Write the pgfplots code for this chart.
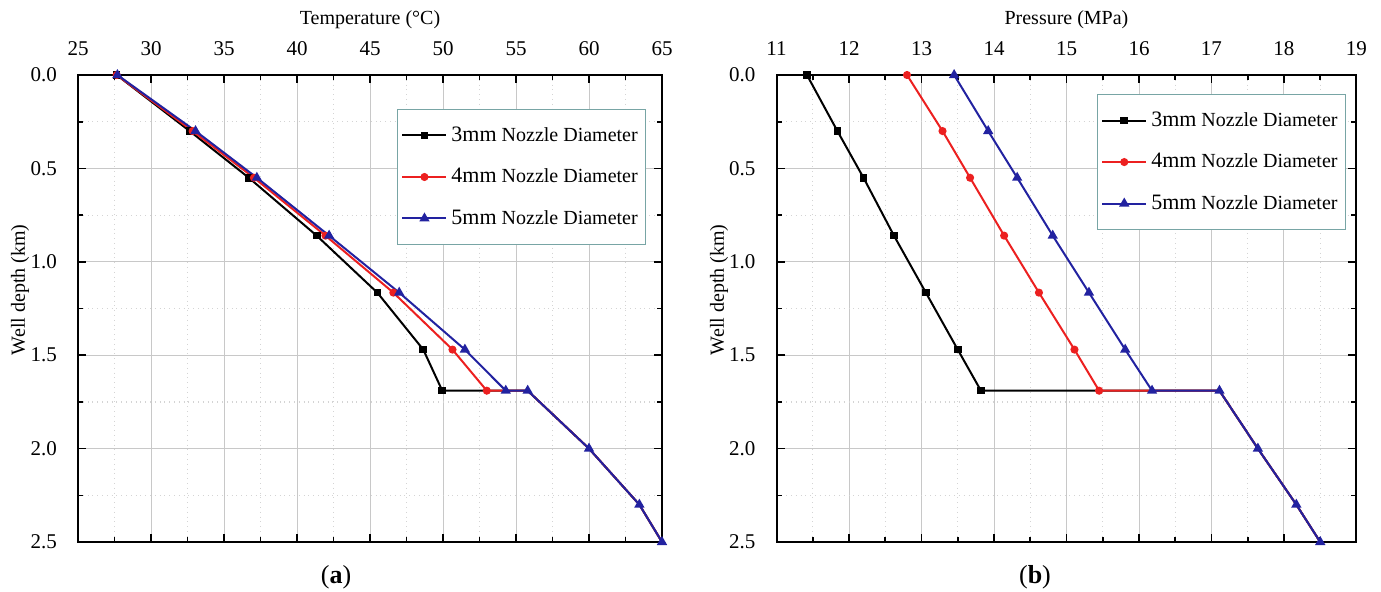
\documentclass[border=0pt]{standalone}
\usepackage{fontspec}
\setmainfont{Liberation Serif}
\usepackage{pgfplots}
\pgfplotsset{compat=1.18}

\definecolor{ser3}{RGB}{0,0,0}
\definecolor{ser4}{RGB}{236,32,32}
\definecolor{ser5}{RGB}{34,34,160}
\definecolor{gridmaj}{RGB}{200,200,200}
\definecolor{gridmin}{RGB}{212,212,212}
\definecolor{legframe}{RGB}{120,165,165}

\pgfplotsset{
  depthaxis/.style={
    scale only axis, height=233.5pt,
    y dir=reverse, ymin=0, ymax=2.5, ytick={0,0.5,...,2.5},
    minor x tick num=1, minor y tick num=1,
    tick align=inside, major tick length=4pt, minor tick length=2.5pt,
    xticklabel pos=upper,
    grid=both,
    major grid style={gridmaj, line width=0.5pt},
    minor grid style={gridmin, dotted, line width=0.6pt},
    axis line style={line width=1pt},
    tick style={black, line width=0.8pt},
    tick label style={font=\rmfamily\fontsize{10.5}{12}\selectfont},
    /pgf/number format/assume math mode=true,
    yticklabel style={/pgf/number format/fixed, /pgf/number format/fixed zerofill,
      /pgf/number format/precision=1, xshift=-7pt},
    xticklabel style={yshift=6pt},
    label style={font=\fontsize{11.5}{13}\selectfont},
    ylabel={Well depth (km)},
    every axis y label/.style={at={(axis description cs:-0.099,0.54)}, rotate=90, anchor=center},
    every axis x label/.style={at={(axis description cs:0.5,1.118)}, anchor=center},
    legend style={anchor=north west, draw=legframe, line width=0.6pt, fill=white,
      inner xsep=2pt, inner ysep=6.5pt, row sep=8pt,
      font=\fontsize{10}{12}\selectfont},
    legend cell align=left,
    legend image code/.code={\draw[mark indices={2}] plot coordinates {(0pt,0pt) (11pt,0pt) (22pt,0pt)};},
  },
  s3/.style={ser3, line width=1pt, mark=square*, mark size=1.4pt, mark options={solid}},
  s4/.style={ser4, line width=1pt, mark=*, mark size=1.5pt, mark options={solid}},
  s5/.style={ser5, line width=1pt, mark=triangle*, mark size=2pt, mark options={solid}},
}

\newcommand{\mm}[1]{{\fontsize{11}{12}\selectfont #1mm} Nozzle Diameter}

\begin{document}
\begin{tikzpicture}
\path[use as bounding box] (0,0) rectangle (690.5pt,-296pt);

% (a) temperature
\begin{axis}[depthaxis, at={(39pt,-271pt)}, anchor=south west, width=292pt,
  xmin=25, xmax=65, xtick={25,30,...,65},
  xlabel={Temperature (°C)},
  legend style={at={(axis description cs:0.546,0.927)}}]
\addplot[s3, mark indices={1,2,3,4,5,6,7}] coordinates {
  (27.65,0) (32.65,0.30) (36.70,0.55) (41.35,0.86) (45.50,1.165) (48.65,1.47) (49.95,1.69)
  (55.80,1.69) (60.00,2.0) (63.45,2.3) (65.00,2.5)};
\addlegendentry{\mm{3}}
\addplot[s4, mark indices={1,2,3,4,5,6,7}] coordinates {
  (27.65,0) (32.85,0.30) (37.05,0.55) (41.95,0.86) (46.60,1.165) (50.65,1.47) (53.00,1.69)
  (55.80,1.69) (60.00,2.0) (63.45,2.3) (65.00,2.5)};
\addlegendentry{\mm{4}}
\addplot[s5] coordinates {
  (27.70,0) (33.05,0.30) (37.25,0.55) (42.20,0.86) (47.00,1.165) (51.50,1.47) (54.30,1.69)
  (55.80,1.69) (60.00,2.0) (63.45,2.3) (65.00,2.5)};
\addlegendentry{\mm{5}}
\end{axis}

% (b) pressure
\begin{axis}[depthaxis, at={(388.25pt,-271pt)}, anchor=south west, width=290pt,
  xmin=11, xmax=19, xtick={11,...,19}, minor x tick num=1,
  xlabel={Pressure (MPa)},
  legend style={at={(axis description cs:0.552,0.959)}}]
\addplot[s3, mark indices={1,2,3,4,5,6,7}] coordinates {
  (11.42,0) (11.84,0.30) (12.20,0.55) (12.62,0.86) (13.06,1.165) (13.50,1.47) (13.82,1.69)
  (17.11,1.69) (17.64,2.0) (18.17,2.3) (18.50,2.5)};
\addlegendentry{\mm{3}}
\addplot[s4, mark indices={1,2,3,4,5,6,7}] coordinates {
  (12.80,0) (13.29,0.30) (13.67,0.55) (14.14,0.86) (14.62,1.165) (15.11,1.47) (15.45,1.69)
  (17.11,1.69) (17.64,2.0) (18.17,2.3) (18.50,2.5)};
\addlegendentry{\mm{4}}
\addplot[s5] coordinates {
  (13.45,0) (13.92,0.30) (14.32,0.55) (14.81,0.86) (15.31,1.165) (15.81,1.47) (16.18,1.69)
  (17.11,1.69) (17.64,2.0) (18.17,2.3) (18.50,2.5)};
\addlegendentry{\mm{5}}
\end{axis}

\node[font=\fontsize{13}{15}\selectfont] at (168pt,-288.5pt) {(\textbf{a})};
\node[font=\fontsize{13}{15}\selectfont] at (517.5pt,-288.5pt) {(\textbf{b})};
\end{tikzpicture}
\end{document}
